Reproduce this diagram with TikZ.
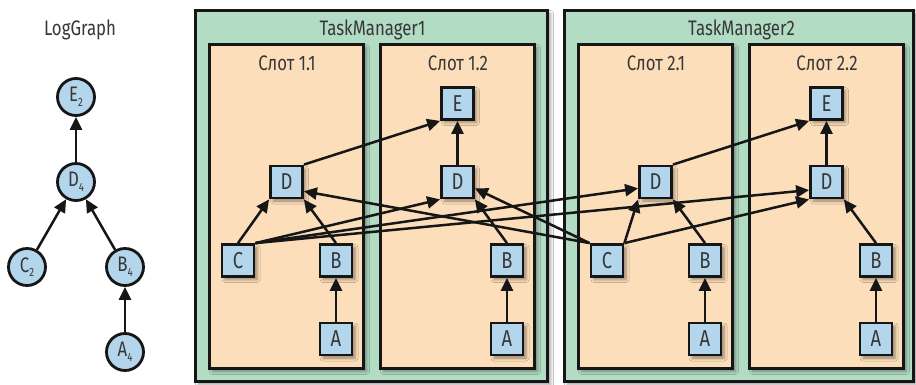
\documentclass[tikz,border=0pt]{standalone}
\usepackage{fontspec}
\setmainfont{Fira Sans}[FakeStretch=0.8]
\usetikzlibrary{arrows.meta,shadows.blur}
\definecolor{tmgreen}{RGB}{178,220,196}
\definecolor{slotpeach}{RGB}{252,222,186}
\definecolor{nodeblue}{RGB}{180,214,236}
\definecolor{ink}{RGB}{22,22,22}
\definecolor{txt}{RGB}{55,55,55}
\newcommand\lsub[1]{\raisebox{-0.22em}{\fontsize{12}{12}\selectfont #1}}
\begin{document}
\begin{tikzpicture}[x=1pt,y=-1pt,
  bigfont/.style={font=\fontsize{21}{24}\selectfont, text=txt},
  shad/.style={blur shadow={shadow xshift=3pt, shadow yshift=-3pt, shadow opacity=40, shadow blur radius=3pt}},
  tmbox/.style={draw=ink, line width=2.6pt, fill=tmgreen, shad, inner sep=0pt},
  slotbox/.style={draw=ink, line width=2.8pt, fill=slotpeach, shad, inner sep=0pt, minimum width=154pt, minimum height=324pt},
  task/.style={draw=ink, line width=2.8pt, fill=nodeblue, shad, minimum size=32pt, inner sep=0pt, font=\fontsize{23}{24}\selectfont, text=txt},
  lognode/.style={circle, draw=ink, line width=2.8pt, fill=nodeblue, minimum size=37pt, inner sep=0pt, bigfont},
  ttl/.style={bigfont, anchor=base, inner sep=0pt},
  arr/.style={draw=ink, line width=2.5pt, -{Triangle[length=13pt,width=12pt]}}
]
\useasboundingbox (0,0) rectangle (916,385);
\fill[white] (0,0) rectangle (916,385);

% LogGraph
\node[ttl] (lgt) at (80,36) {LogGraph};
\node[lognode] (E2) at (76,97) {E\lsub{2}};
\node[lognode] (D4) at (76,182) {D\lsub{4}};
\node[lognode] (C2) at (27,267) {C\lsub{2}};
\node[lognode] (B4) at (125,267) {B\lsub{4}};
\node[lognode] (A4) at (125,352) {A\lsub{4}};
\draw[arr] (D4) -- (E2);
\draw[arr] (C2) -- (D4);
\draw[arr] (B4) -- (D4);
\draw[arr] (A4) -- (B4);

% TaskManagers
\node[tmbox, minimum width=352pt, minimum height=371pt] (tm1) at (371.5,196) {};
\node[tmbox, minimum width=349pt, minimum height=371pt] (tm2) at (739,196) {};
\node[ttl] (tm1t) at (372.5,36) {TaskManager1};
\node[ttl] (tm2t) at (741.5,36) {TaskManager2};

% Slots
\node[slotbox] (s11) at (286.5,206.5) {};
\node[slotbox] (s12) at (457.5,206.5) {};
\node[slotbox] (s21) at (655.5,206.5) {};
\node[slotbox] (s22) at (826.5,206.5) {};
\node[ttl] (s11t) at (287,71) {Слот 1.1};
\node[ttl] (s12t) at (458,71) {Слот 1.2};
\node[ttl] (s21t) at (656,71) {Слот 2.1};
\node[ttl] (s22t) at (827,71) {Слот 2.2};

% Slot 1.1
\node[task] (d11) at (286.5,182) {D};
\node[task] (c11) at (238,260.5) {C};
\node[task] (b11) at (336,260.5) {B};
\node[task] (a11) at (336,339) {A};
% Slot 1.2
\node[task] (e12) at (457.5,103.5) {E};
\node[task] (d12) at (457.5,182) {D};
\node[task] (b12) at (507,260.5) {B};
\node[task] (a12) at (507,339) {A};
% Slot 2.1
\node[task] (d21) at (655.5,182) {D};
\node[task] (c21) at (607,260.5) {C};
\node[task] (b21) at (705,260.5) {B};
\node[task] (a21) at (705,339) {A};
% Slot 2.2
\node[task] (e22) at (826.5,103.5) {E};
\node[task] (d22) at (826.5,182) {D};
\node[task] (b22) at (876,260.5) {B};
\node[task] (a22) at (876,339) {A};

% edges
\draw[arr] (a11.north) -- (b11.south);
\draw[arr] (a12.north) -- (b12.south);
\draw[arr] (a21.north) -- (b21.south);
\draw[arr] (a22.north) -- (b22.south);
\draw[arr] (b11.north) -- (d11.south east);
\draw[arr] (b12.north) -- (d12.south east);
\draw[arr] (b21.north) -- (d21.south east);
\draw[arr] (b22.north) -- (d22.south east);
\draw[arr] (c11.north) -- (d11.south west);
\draw[arr] (c21.north east) -- (d21.south west);
\draw[arr] (d12.north) -- (e12.south);
\draw[arr] (d22.north) -- (e22.south);
\draw[arr] (d11.north east) -- (e12.south west);
\draw[arr] (d21.north east) -- (e22.south west);
\draw[arr] (c11.north east) -- (d12.south west);
\draw[arr] (c11.north east) -- (d21.200);
\draw[arr] (c11.north east) -- (d22.205);
\draw[arr] (c21.north west) -- (d11.-28);
\draw[arr] (c21.north west) -- (d12.-20);
\draw[arr] (c21.north east) -- (d22.south west);
\end{tikzpicture}
\end{document}
